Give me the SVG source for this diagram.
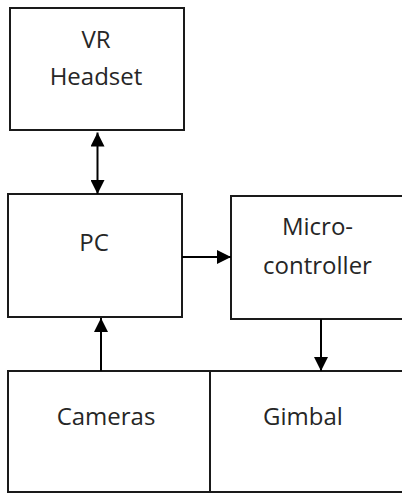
<svg xmlns="http://www.w3.org/2000/svg" width="402" height="493" viewBox="0 0 402 493">
<style>
.box{fill:#ffffff;stroke:#1a1a1a;stroke-width:2}
.lbl{font-family:"Open Sans","Noto Sans",sans-serif;font-size:24px;fill:#262626;text-anchor:middle}
.con{stroke:#000000;stroke-width:2;fill:none}
</style>
<defs>
<marker id="ah" markerUnits="userSpaceOnUse" markerWidth="14" markerHeight="14" viewBox="0 0 14 14" refX="14" refY="7" orient="auto-start-reverse">
<path d="M0,0 L14,7 L0,14 Z" fill="#000000"/>
</marker>
</defs>
<rect width="402" height="493" fill="#ffffff"/>
<g id="vr-headset">
<rect class="box" x="10" y="8" width="174" height="122"/>
<text class="lbl" x="96" y="48">VR</text>
<text class="lbl" x="96" y="85">Headset</text>
</g>
<g id="pc">
<rect class="box" x="8" y="194" width="174" height="123"/>
<text class="lbl" x="94" y="251">PC</text>
</g>
<g id="microcontroller">
<rect class="box" x="231" y="196" width="180" height="123"/>
<text class="lbl" x="317.5" y="235">Micro-</text>
<text class="lbl" x="317.5" y="274">controller</text>
</g>
<g id="cameras">
<rect class="box" x="8" y="371" width="202" height="121"/>
<text class="lbl" x="106" y="425">Cameras</text>
</g>
<g id="gimbal">
<rect class="box" x="210" y="371" width="200" height="121"/>
<text class="lbl" x="303" y="425">Gimbal</text>
</g>
<g id="connectors">
<line class="con" x1="97.5" y1="132.5" x2="97.5" y2="194" marker-start="url(#ah)" marker-end="url(#ah)"/>
<line class="con" x1="182" y1="257" x2="231" y2="257" marker-end="url(#ah)"/>
<line class="con" x1="321" y1="319" x2="321" y2="371" marker-end="url(#ah)"/>
<line class="con" x1="101" y1="371" x2="101" y2="318" marker-end="url(#ah)"/>
</g>
</svg>
